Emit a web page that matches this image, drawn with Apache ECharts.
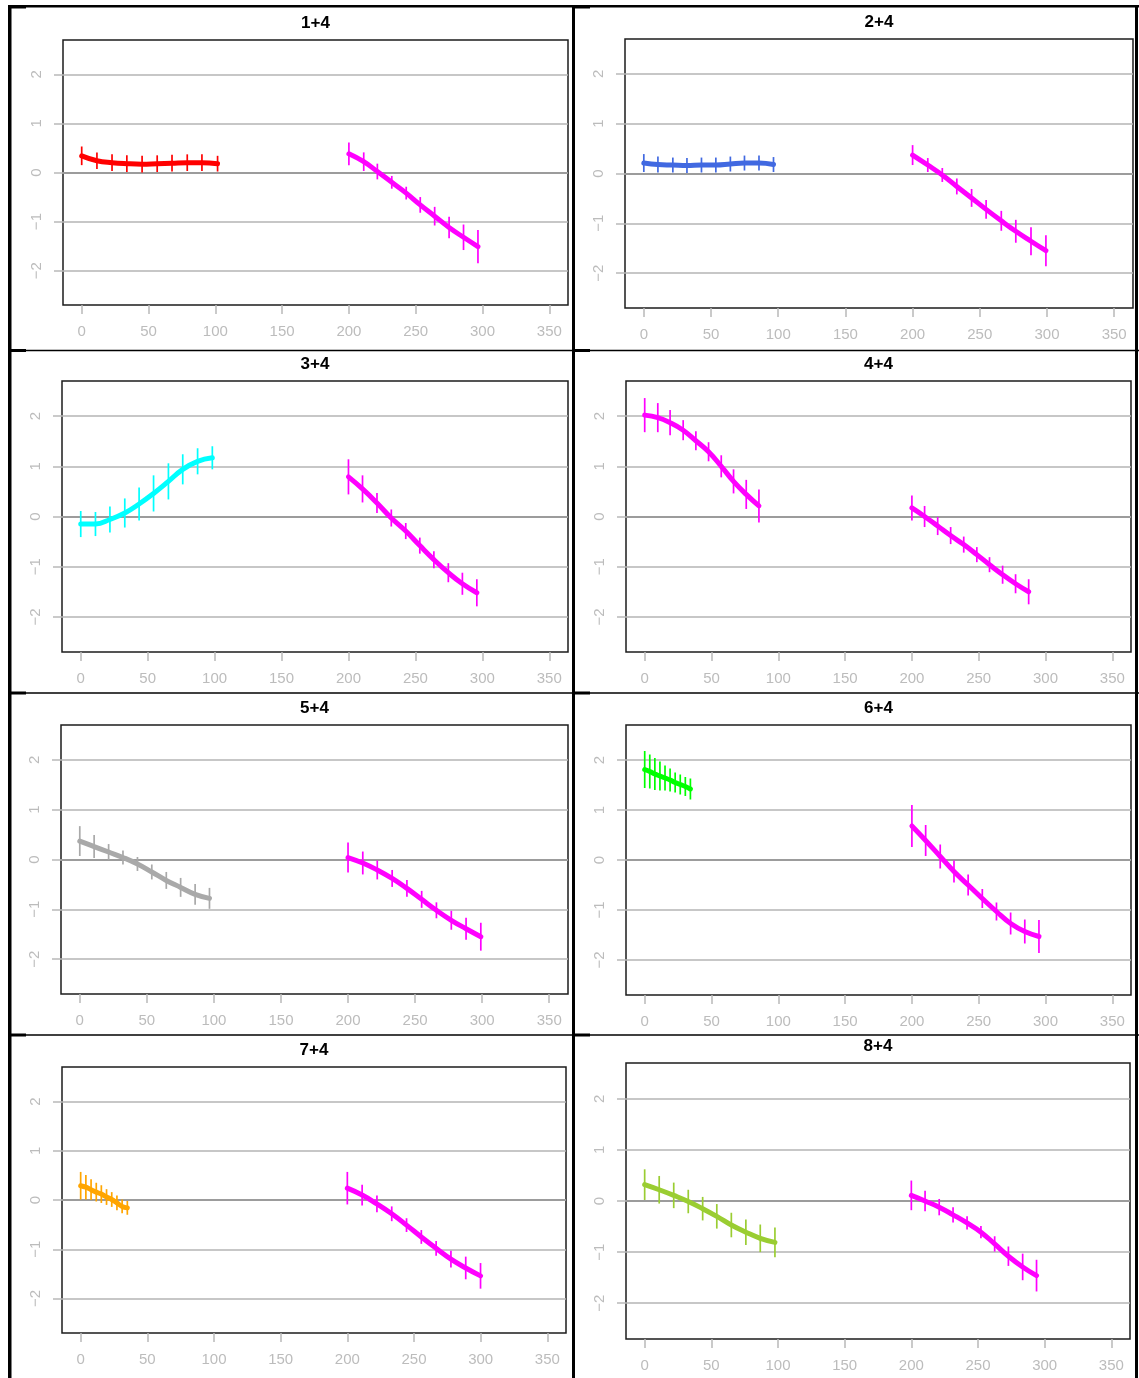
<!DOCTYPE html>
<html>
<head>
<meta charset="utf-8">
<title>Fitted curves with error bars</title>
<script src="https://cdn.jsdelivr.net/npm/echarts@6/dist/echarts.min.js"></script>
<style>
  html, body { margin: 0; padding: 0; background: #fff; }
  #chart { width: 1139px; height: 1378px; }
</style>
</head>
<body>
<div id="chart"></div>
<script>
// ---- axis ticks and panel titles ----
const X_TICKS = [0, 50, 100, 150, 200, 250, 300, 350];
const Y_TICKS = [-2, -1, 0, 1, 2];
const TITLES = ['1+4', '2+4', '3+4', '4+4', '5+4', '6+4', '7+4', '8+4'];

// ---- left-hand segment of each panel: x, fitted value, half-width of error bar ----
const lx1 = [0, 11.4, 22.7, 33.8, 45.2, 56.5, 67.6, 79, 90, 101.7];
const ly1 = [0.34, 0.24, 0.20, 0.18, 0.17, 0.18, 0.19, 0.20, 0.20, 0.18];
const le1 = [0.19, 0.17, 0.17, 0.17, 0.17, 0.17, 0.17, 0.17, 0.17, 0.16];

const lx2 = [0, 10.5, 21.6, 32.1, 42.9, 53.6, 64.4, 74.9, 85.7, 96.5];
const ly2 = [0.21, 0.18, 0.17, 0.16, 0.17, 0.17, 0.19, 0.21, 0.21, 0.18];
const le2 = [0.18, 0.16, 0.15, 0.15, 0.15, 0.15, 0.15, 0.15, 0.15, 0.15];

const lx3 = [0, 11, 21.8, 32.9, 43.6, 54.4, 65.5, 76.2, 87.3, 98.3];
const ly3 = [-0.15, -0.15, -0.06, 0.07, 0.25, 0.46, 0.70, 0.94, 1.10, 1.17];
const le3 = [0.26, 0.24, 0.26, 0.29, 0.33, 0.36, 0.36, 0.30, 0.26, 0.23];

const lx4 = [0, 9.8, 19, 28.8, 38.3, 47.8, 57.3, 66.5, 76, 85.5];
const ly4 = [2.02, 1.97, 1.87, 1.72, 1.51, 1.29, 1.00, 0.70, 0.44, 0.21];
const le4 = [0.34, 0.29, 0.25, 0.20, 0.19, 0.19, 0.22, 0.24, 0.29, 0.33];

const lx5 = [0, 10.7, 21.5, 32.2, 43, 53.7, 64.5, 75.2, 86, 96.7];
const ly5 = [0.37, 0.26, 0.15, 0.04, -0.09, -0.25, -0.42, -0.56, -0.70, -0.78];
const le5 = [0.30, 0.23, 0.16, 0.14, 0.14, 0.15, 0.17, 0.19, 0.21, 0.21];

const lx6 = [0, 3.8, 7.6, 11.4, 15.2, 19, 22.8, 26.6, 30.4, 34.2];
const ly6 = [1.81, 1.77, 1.72, 1.68, 1.64, 1.60, 1.55, 1.51, 1.47, 1.42];
const le6 = [0.37, 0.34, 0.32, 0.29, 0.25, 0.23, 0.20, 0.20, 0.19, 0.21];

const lx7 = [0, 3.9, 7.8, 11.7, 15.5, 19.4, 23.3, 27.2, 31.1, 35];
const ly7 = [0.29, 0.26, 0.21, 0.16, 0.12, 0.06, 0.01, -0.06, -0.13, -0.16];
const le7 = [0.28, 0.25, 0.21, 0.19, 0.18, 0.16, 0.15, 0.15, 0.14, 0.14];

const lx8 = [0, 10.9, 21.8, 32.7, 43.5, 54.1, 65, 75.9, 86.7, 97.7];
const ly8 = [0.32, 0.22, 0.11, -0.01, -0.15, -0.30, -0.47, -0.61, -0.73, -0.81];
const le8 = [0.30, 0.27, 0.25, 0.23, 0.23, 0.24, 0.24, 0.25, 0.27, 0.29];

// ---- right-hand segment (term 4) of each panel ----
const rx1 = [200, 211.1, 221.3, 232.1, 242.9, 253.4, 264.2, 275, 285.8, 296.6];
const ry1 = [0.38, 0.22, 0.02, -0.20, -0.42, -0.66, -0.89, -1.12, -1.32, -1.51];
const re1 = [0.23, 0.19, 0.16, 0.13, 0.13, 0.16, 0.19, 0.22, 0.26, 0.34];

const rx2 = [200, 211.3, 222.1, 232.9, 243.9, 254.7, 266, 276.8, 288.1, 299.2];
const ry2 = [0.37, 0.17, -0.03, -0.26, -0.49, -0.72, -0.95, -1.16, -1.36, -1.55];
const re2 = [0.20, 0.14, 0.14, 0.16, 0.18, 0.19, 0.20, 0.23, 0.28, 0.31];

const rx3 = [200, 210.5, 221.3, 232, 242.8, 253.3, 263.8, 274.6, 285.1, 295.9];
const ry3 = [0.79, 0.55, 0.27, -0.03, -0.29, -0.58, -0.86, -1.12, -1.34, -1.52];
const re3 = [0.35, 0.27, 0.20, 0.17, 0.16, 0.16, 0.17, 0.19, 0.22, 0.27];

const rx4 = [200, 209.5, 219.3, 229, 238.8, 248.6, 258.1, 267.9, 277.6, 287.4];
const ry4 = [0.17, 0.00, -0.19, -0.38, -0.56, -0.76, -0.96, -1.16, -1.34, -1.50];
const re4 = [0.25, 0.21, 0.18, 0.17, 0.16, 0.15, 0.15, 0.18, 0.19, 0.25];

const rx5 = [200, 211, 221.8, 232.9, 243.9, 254.9, 265.9, 277, 288, 299];
const ry5 = [0.04, -0.07, -0.21, -0.38, -0.58, -0.80, -1.02, -1.22, -1.39, -1.55];
const re5 = [0.30, 0.23, 0.19, 0.17, 0.17, 0.17, 0.16, 0.19, 0.22, 0.28];

const rx6 = [200, 210.3, 221.2, 231.5, 242.1, 252.7, 263.3, 273.9, 284.5, 295.1];
const ry6 = [0.68, 0.39, 0.07, -0.23, -0.50, -0.77, -1.03, -1.27, -1.43, -1.53];
const re6 = [0.42, 0.31, 0.24, 0.22, 0.21, 0.19, 0.18, 0.22, 0.24, 0.33];

const rx7 = [200, 211.1, 222.2, 233.3, 244.4, 255.5, 266.6, 277.7, 288.8, 299.9];
const ry7 = [0.24, 0.10, -0.08, -0.28, -0.51, -0.75, -0.98, -1.20, -1.38, -1.54];
const re7 = [0.33, 0.21, 0.17, 0.15, 0.14, 0.14, 0.15, 0.17, 0.23, 0.26];

const rx8 = [200, 210.3, 220.9, 231.3, 241.8, 252.2, 262.5, 272.8, 283.5, 293.9];
const ry8 = [0.11, 0.00, -0.12, -0.27, -0.43, -0.61, -0.84, -1.08, -1.29, -1.46];
const re8 = [0.29, 0.20, 0.16, 0.15, 0.13, 0.12, 0.15, 0.19, 0.26, 0.31];

// ---- styling ----
const LEFT_COLORS = ['#FF0000', '#4169E1', '#00FFFF', '#FF00FF', '#A9A9A9', '#00FF00', '#FFA500', '#9ACD32'];
const TERM4_COLOR = '#FF00FF';
const FONT = '"Liberation Sans", Arial, sans-serif';
const TICK_GREY = '#b9b9b9';
const LABEL_GREY = '#bcbcbc';
const GRID_GREY = '#b4b4b4';

// plot boxes in pixels: [left, top, width, height]
const BOXES = [
  [63, 40, 505, 265], [625, 39, 508, 269],
  [62, 381, 506, 271], [626, 381, 505, 271],
  [61, 725, 507, 269], [626, 725, 505, 270],
  [62, 1067, 504, 266], [626, 1063, 504, 276]
];

const LEFT = [[lx1, ly1, le1], [lx2, ly2, le2], [lx3, ly3, le3], [lx4, ly4, le4],
              [lx5, ly5, le5], [lx6, ly6, le6], [lx7, ly7, le7], [lx8, ly8, le8]];
const RIGHT = [[rx1, ry1, re1], [rx2, ry2, re2], [rx3, ry3, re3], [rx4, ry4, re4],
               [rx5, ry5, re5], [rx6, ry6, re6], [rx7, ry7, re7], [rx8, ry8, re8]];

const zip = (xs, ys) => xs.map((x, i) => [x, ys[i]]);
const zip3 = (xs, ys, es) => xs.map((x, i) => [x, ys[i], es[i]]);
const minus = v => String(v).replace('-', '\u2212');

function errorBars(idx, color, seg) {
  return {
    type: 'custom',
    xAxisIndex: idx,
    yAxisIndex: idx,
    z: 8,
    silent: true,
    data: zip3(seg[0], seg[1], seg[2]),
    renderItem: function (params, api) {
      const x = api.value(0), y = api.value(1), e = api.value(2);
      const lo = api.coord([x, y - e]);
      const hi = api.coord([x, y + e]);
      return {
        type: 'line',
        shape: { x1: lo[0], y1: lo[1], x2: hi[0], y2: hi[1] },
        style: { stroke: color, lineWidth: 1.7 }
      };
    }
  };
}

function curve(idx, color, seg, withZero) {
  const s = {
    type: 'line',
    xAxisIndex: idx,
    yAxisIndex: idx,
    z: 10,
    data: zip(seg[0], seg[1]),
    smooth: 0.45,
    showSymbol: false,
    silent: true,
    lineStyle: { color: color, width: 5, cap: 'round', join: 'round' }
  };
  if (withZero) {
    s.markLine = {
      silent: true,
      symbol: 'none',
      z: 1,
      label: { show: false },
      lineStyle: { color: '#9c9c9c', width: 2, type: 'solid' },
      data: [{ yAxis: 0 }]
    };
  }
  return s;
}

const grid = [], xAxis = [], yAxis = [], title = [], series = [];

BOXES.forEach((b, i) => {
  grid.push({
    left: b[0], top: b[1], width: b[2], height: b[3],
    show: true, borderColor: '#1c1c1c', borderWidth: 1.5, backgroundColor: 'transparent'
  });
  xAxis.push({
    gridIndex: i, type: 'value', min: -14, max: 364, position: 'bottom',
    axisLine: { show: false, onZero: false },
    axisTick: { show: true, customValues: X_TICKS, length: 9, lineStyle: { color: TICK_GREY, width: 1.5 } },
    axisLabel: { customValues: X_TICKS, margin: 19, color: LABEL_GREY, fontSize: 15, fontFamily: FONT },
    splitLine: { show: false }
  });
  yAxis.push({
    gridIndex: i, type: 'value', min: -2.7, max: 2.7, position: 'left',
    axisLine: { show: false, onZero: false },
    axisTick: { show: true, customValues: Y_TICKS, length: 9, lineStyle: { color: TICK_GREY, width: 1.5 } },
    axisLabel: { customValues: Y_TICKS, rotate: 90, margin: 19, color: LABEL_GREY, fontSize: 15, fontFamily: FONT, formatter: minus },
    splitLine: { show: true, lineStyle: { color: GRID_GREY, width: 1.5 } }
  });
  title.push({
    text: TITLES[i],
    left: b[0] + b[2] / 2,
    top: b[1] - 25,
    padding: 0,
    textAlign: 'center',
    textStyle: { fontSize: 17, fontWeight: 'bold', color: '#000', fontFamily: FONT }
  });
  series.push(errorBars(i, LEFT_COLORS[i], LEFT[i]));
  series.push(curve(i, LEFT_COLORS[i], LEFT[i], false));
  series.push(errorBars(i, TERM4_COLOR, RIGHT[i]));
  series.push(curve(i, TERM4_COLOR, RIGHT[i], true));
});

// table rules around the eight panels
const rule = (x, y, w, h) => ({ type: 'rect', silent: true, z: 100, shape: { x: x, y: y, width: w, height: h }, style: { fill: '#000' } });
const graphic = [
  rule(8, 5, 1131, 2.5),
  rule(8, 5, 3.5, 1373),
  rule(572, 5, 3, 1373),
  rule(1135, 5, 3, 1373),
  rule(8, 349.8, 1131, 1.5),
  rule(8, 692.3, 1131, 1.5),
  rule(8, 1034.3, 1131, 1.5),
  rule(8, 349, 18, 3), rule(572, 349, 18, 3),
  rule(8, 691.5, 18, 3), rule(572, 691.5, 18, 3),
  rule(8, 1033.5, 18, 3), rule(572, 1033.5, 18, 3),
  rule(8, 5, 18, 3.5), rule(572, 5, 18, 3.5)
];

const chart = echarts.init(document.getElementById('chart'), null, { renderer: 'canvas' });
chart.setOption({
  backgroundColor: '#fff',
  animation: false,
  title: title,
  grid: grid,
  xAxis: xAxis,
  yAxis: yAxis,
  series: series,
  graphic: graphic
});
</script>
</body>
</html>
